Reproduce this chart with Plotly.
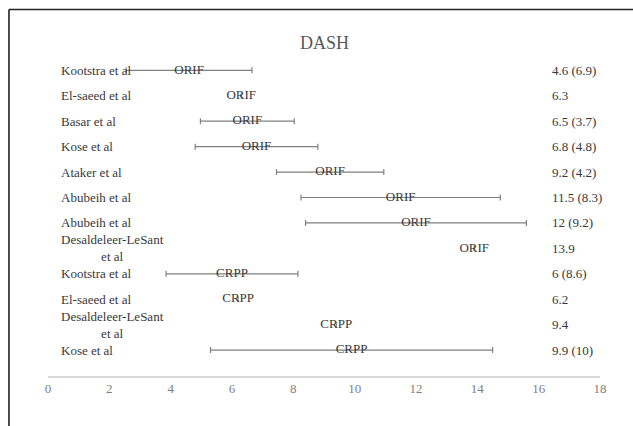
import plotly.graph_objects as go

studies = ["Kootstra et al", "El-saeed et al", "Basar et al", "Kose et al", "Ataker et al",
           "Abubeih et al", "Abubeih et al", "Desaldeleer-LeSant<br>et al", "Kootstra et al",
           "El-saeed et al", "Desaldeleer-LeSant<br>et al", "Kose et al"]
groups = ["ORIF", "ORIF", "ORIF", "ORIF", "ORIF", "ORIF", "ORIF", "ORIF",
          "CRPP", "CRPP", "CRPP", "CRPP"]
means = [4.6, 6.3, 6.5, 6.8, 9.2, 11.5, 12, 13.9, 6, 6.2, 9.4, 9.9]
# half-width of the drawn interval; 0 = no bar
half_width = [2.05, 0, 1.53, 2.0, 1.75, 3.25, 3.6, 0, 2.15, 0, 0, 4.6]
value_labels = ["4.6 (6.9)", "6.3", "6.5 (3.7)", "6.8 (4.8)", "9.2 (4.2)", "11.5 (8.3)",
                "12 (9.2)", "13.9", "6 (8.6)", "6.2", "9.4", "9.9 (10)"]
x_ticks = [0, 2, 4, 6, 8, 10, 12, 14, 16, 18]

FONT = "Liberation Serif"
TXT = "#383838"
FS = 13
rows = list(range(len(studies)))

fig = go.Figure()
fig.add_trace(go.Scatter(
    x=means, y=rows, mode="text", text=groups,
    textfont=dict(family=FONT, size=FS, color=TXT),
    textposition="middle center",
    error_x=dict(type="data", symmetric=True, array=half_width,
                 color="#808080", thickness=1.2, width=3, visible=True),
    showlegend=False, hoverinfo="skip", cliponaxis=False,
))

annotations = []
for i, (s, v) in enumerate(zip(studies, value_labels)):
    annotations.append(dict(x=0.0199, y=i, xref="paper", yref="y", text=s, showarrow=False,
                            xanchor="left", yanchor="middle", align="center",
                            font=dict(family=FONT, size=FS, color=TXT)))
    annotations.append(dict(x=16.38, y=i, xref="x", yref="y", text=v, showarrow=False,
                            xanchor="left", yanchor="middle", align="left",
                            font=dict(family=FONT, size=FS, color=TXT)))
annotations.append(dict(x=0.5, y=1.0, xref="paper", yref="paper", text="DASH",
                        showarrow=False, xanchor="center", yanchor="middle",
                        yshift=7, font=dict(family=FONT, size=18, color="#595959")))

fig.update_layout(
    width=633, height=426,
    margin=dict(l=48, r=33, t=50, b=50),
    paper_bgcolor="white", plot_bgcolor="white",
    annotations=annotations,
    shapes=[
        dict(type="line", xref="paper", yref="paper", x0=-0.0707, x1=1.07,
             y0=1.1243, y1=1.1243, line=dict(color="#222222", width=1.6)),
        dict(type="line", xref="paper", yref="paper", x0=-0.0707, x1=-0.0707,
             y0=1.1243, y1=-0.16, line=dict(color="#222222", width=1.6)),
    ],
    xaxis=dict(range=[0, 18], tickvals=x_ticks, ticktext=[str(t) for t in x_ticks],
               showgrid=False, zeroline=False, showline=True, linecolor="#d9d9d9",
               linewidth=1.5, ticks="", tickfont=dict(family=FONT, size=FS, color="#7f7f7f"),
               fixedrange=True),
    yaxis=dict(range=[12.02, -0.8], showgrid=False, zeroline=False, showline=False,
               showticklabels=False, ticks="", fixedrange=True),
)
fig.write_html("out.html", config={"displayModeBar": False},
               post_script="document.body.style.margin='0';document.body.style.overflow='hidden';")
